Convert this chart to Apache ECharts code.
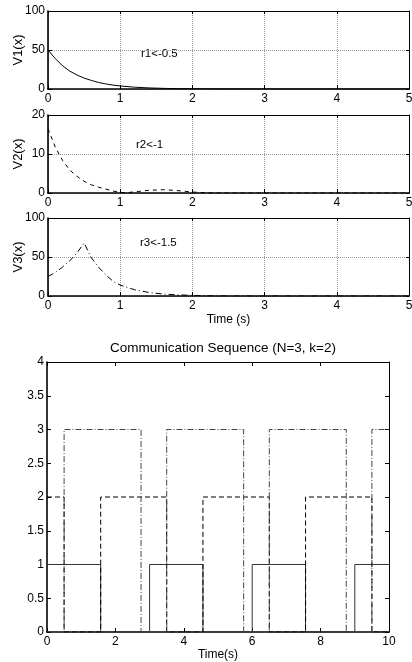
<!DOCTYPE html>
<html>
<head>
<meta charset="utf-8">
<script src="https://cdn.jsdelivr.net/npm/echarts@6/dist/echarts.min.js"></script>
<style>html,body{margin:0;padding:0;background:#fff}#c{width:412px;height:662px}</style>
</head>
<body>
<div id="c"></div>
<script>
// ---- data ----
const x1 = [0,0.1,0.2,0.3,0.4,0.5,0.6,0.7,0.8,0.9,1.0,1.2,1.4,1.6,1.8,2.0,2.5,3,4,5];
const v1 = [50,39,30,23,18,14,11,8.4,6.5,5,3.9,2.3,1.4,0.8,0.5,0.3,0.1,0,0,0];
const x2 = [0,0.1,0.2,0.3,0.4,0.5,0.6,0.7,0.8,0.9,1.0,1.1,1.2,1.4,1.6,1.8,2.0,2.2,2.5,3,4,5];
const v2 = [16.5,11.8,8.4,5.9,4.3,3.0,2.1,1.5,1.0,0.5,0.15,0.1,0.3,0.7,0.85,0.6,0.25,0.05,0,0,0,0];
const x3 = [0,0.1,0.2,0.3,0.4,0.5,0.6,0.7,0.8,0.9,1.0,1.2,1.4,1.6,1.8,2.0,2.3,2.6,3,4,5];
const v3 = [25,30,37,45,55,68,49,37,27,19,14,8,4.5,2.5,1.5,0.8,0.2,0,0,0,0];
const annot = ['r1<-0.5','r2<-1','r3<-1.5'];
const yNames = ['V1(x)','V2(x)','V3(x)'];
const yMax = [100,20,100];
const yInt = [50,10,50];
// communication sequence: switching times and levels
const s1T = [0,1.57,3.0,4.56,6.0,7.56,9.0,10];
const s1L = [1,0,1,0,1,0,1];
const s2T = [0,0.5,1.57,3.5,4.56,6.5,7.56,9.5,10];
const s2L = [2,0,2,0,2,0,2,0];
const s3T = [0,0.5,2.75,3.5,5.75,6.5,8.75,9.5,10];
const s3L = [0,3,0,3,0,3,0,3];
const titleText = 'Communication Sequence (N=3, k=2)';

const FONT = '"Liberation Sans", Arial, sans-serif';
function pairs(xs, ys){ return xs.map((x,i)=>[x,ys[i]]); }
function steps(ts, ls){
  const out=[];
  for(let i=0;i<ls.length;i++){ out.push([ts[i],ls[i]]); out.push([ts[i+1],ls[i]]); }
  return out;
}

const grids = [
  {left:48, top:11, width:361, height:78, outerBoundsMode:'none', containLabel:false},
  {left:48, top:115, width:361, height:78, outerBoundsMode:'none', containLabel:false},
  {left:48, top:218, width:361, height:78, outerBoundsMode:'none', containLabel:false},
  {left:47, top:362, width:342, height:270, outerBoundsMode:'none', containLabel:false}
];
const xAxis=[], yAxis=[], series=[];
const lbl = {color:'#000', fontSize:12, fontFamily:FONT};
for(let i=0;i<3;i++){
  xAxis.push({type:'value', gridIndex:i, min:0, max:5, interval:1,
    axisLine:{onZero:false, lineStyle:{color:'#000', width:1.6}},
    axisTick:{inside:true, length:4, lineStyle:{color:'#000'}},
    axisLabel:Object.assign({margin:4}, lbl),
    splitLine:{show:true, lineStyle:{type:'dotted', color:'#999', width:1}},
    name: i===2 ? 'Time (s)' : '', nameLocation:'middle', nameGap:18, nameMoveOverlap:false,
    nameTextStyle:lbl});
  xAxis.push({type:'value', gridIndex:i, min:0, max:5, interval:1, position:'top',
    axisLine:{onZero:false, lineStyle:{color:'#000', width:1}},
    axisTick:{inside:true, length:3, lineStyle:{color:'#000'}},
    axisLabel:{show:false}, splitLine:{show:false}});
  yAxis.push({type:'value', gridIndex:i, min:0, max:yMax[i], interval:yInt[i],
    axisLine:{onZero:false, lineStyle:{color:'#000', width:1.6}},
    axisTick:{inside:true, length:4, lineStyle:{color:'#000'}},
    axisLabel:Object.assign({margin:3}, lbl),
    splitLine:{show:true, lineStyle:{type:'dotted', color:'#999', width:1}},
    name:yNames[i], nameLocation:'middle', nameGap:23, nameMoveOverlap:false,
    nameTextStyle:Object.assign({}, lbl, {fontSize:13})});
  yAxis.push({type:'value', gridIndex:i, min:0, max:yMax[i], interval:yInt[i], position:'right',
    axisLine:{onZero:false, lineStyle:{color:'#000', width:1}},
    axisTick:{inside:true, length:3, lineStyle:{color:'#000'}},
    axisLabel:{show:false}, splitLine:{show:false}});
}
// bottom plot axes
xAxis.push({type:'value', gridIndex:3, min:0, max:10, interval:2,
  axisLine:{onZero:false, lineStyle:{color:'#000', width:1.6}},
  axisTick:{inside:true, length:4, lineStyle:{color:'#000'}},
  axisLabel:Object.assign({margin:4}, lbl),
  splitLine:{show:false},
  name:'Time(s)', nameLocation:'middle', nameGap:17, nameMoveOverlap:false, nameTextStyle:lbl});
xAxis.push({type:'value', gridIndex:3, min:0, max:10, interval:2, position:'top',
  axisLine:{onZero:false, lineStyle:{color:'#000', width:1}},
  axisTick:{inside:true, length:4, lineStyle:{color:'#000'}},
  axisLabel:{show:false}, splitLine:{show:false}});
yAxis.push({type:'value', gridIndex:3, min:0, max:4, interval:0.5,
  axisLine:{onZero:false, lineStyle:{color:'#000', width:1.6}},
  axisTick:{inside:true, length:4, lineStyle:{color:'#000'}},
  axisLabel:Object.assign({margin:3}, lbl),
  splitLine:{show:false}});
yAxis.push({type:'value', gridIndex:3, min:0, max:4, interval:0.5, position:'right',
  axisLine:{onZero:false, lineStyle:{color:'#000', width:1}},
  axisTick:{inside:true, length:4, lineStyle:{color:'#000'}},
  axisLabel:{show:false}, splitLine:{show:false}});

const base = {type:'line', showSymbol:false, symbol:'none', animation:false, silent:true};
series.push(Object.assign({}, base, {xAxisIndex:0, yAxisIndex:0, data:pairs(x1,v1),
  lineStyle:{color:'#000', width:1, type:'solid'}}));
series.push(Object.assign({}, base, {xAxisIndex:2, yAxisIndex:2, data:pairs(x2,v2),
  lineStyle:{color:'#000', width:1, type:[4,4]}}));
series.push(Object.assign({}, base, {xAxisIndex:4, yAxisIndex:4, data:pairs(x3,v3),
  lineStyle:{color:'#000', width:1, type:[6,3,1,3]}}));
series.push(Object.assign({}, base, {xAxisIndex:6, yAxisIndex:6, data:steps(s1T,s1L),
  lineStyle:{color:'#333', width:1, type:'solid'}}));
series.push(Object.assign({}, base, {xAxisIndex:6, yAxisIndex:6, data:steps(s2T,s2L),
  lineStyle:{color:'#000', width:1, type:[5,3]}}));
series.push(Object.assign({}, base, {xAxisIndex:6, yAxisIndex:6, data:steps(s3T,s3L),
  lineStyle:{color:'#444', width:1, type:[6,2,1,2]}}));

const annPos = [[161,55],[156,146],[160,244]];
const graphic = annot.map((t,i)=>({type:'text', left:annPos[i][0]-20, top:annPos[i][1]-7,
  style:{text:t, fill:'#000', font:'11.5px '+FONT}}));

const chart = echarts.init(document.getElementById('c'), null, {renderer:'canvas'});
chart.setOption({
  animation:false,
  backgroundColor:'#fff',
  title:{text:titleText, left:218, top:336, textAlign:'center',
    textStyle:{fontSize:13.5, fontWeight:'normal', color:'#000', fontFamily:FONT}},
  grid:grids, xAxis:xAxis, yAxis:yAxis, series:series, graphic:graphic
});
</script>
</body>
</html>
